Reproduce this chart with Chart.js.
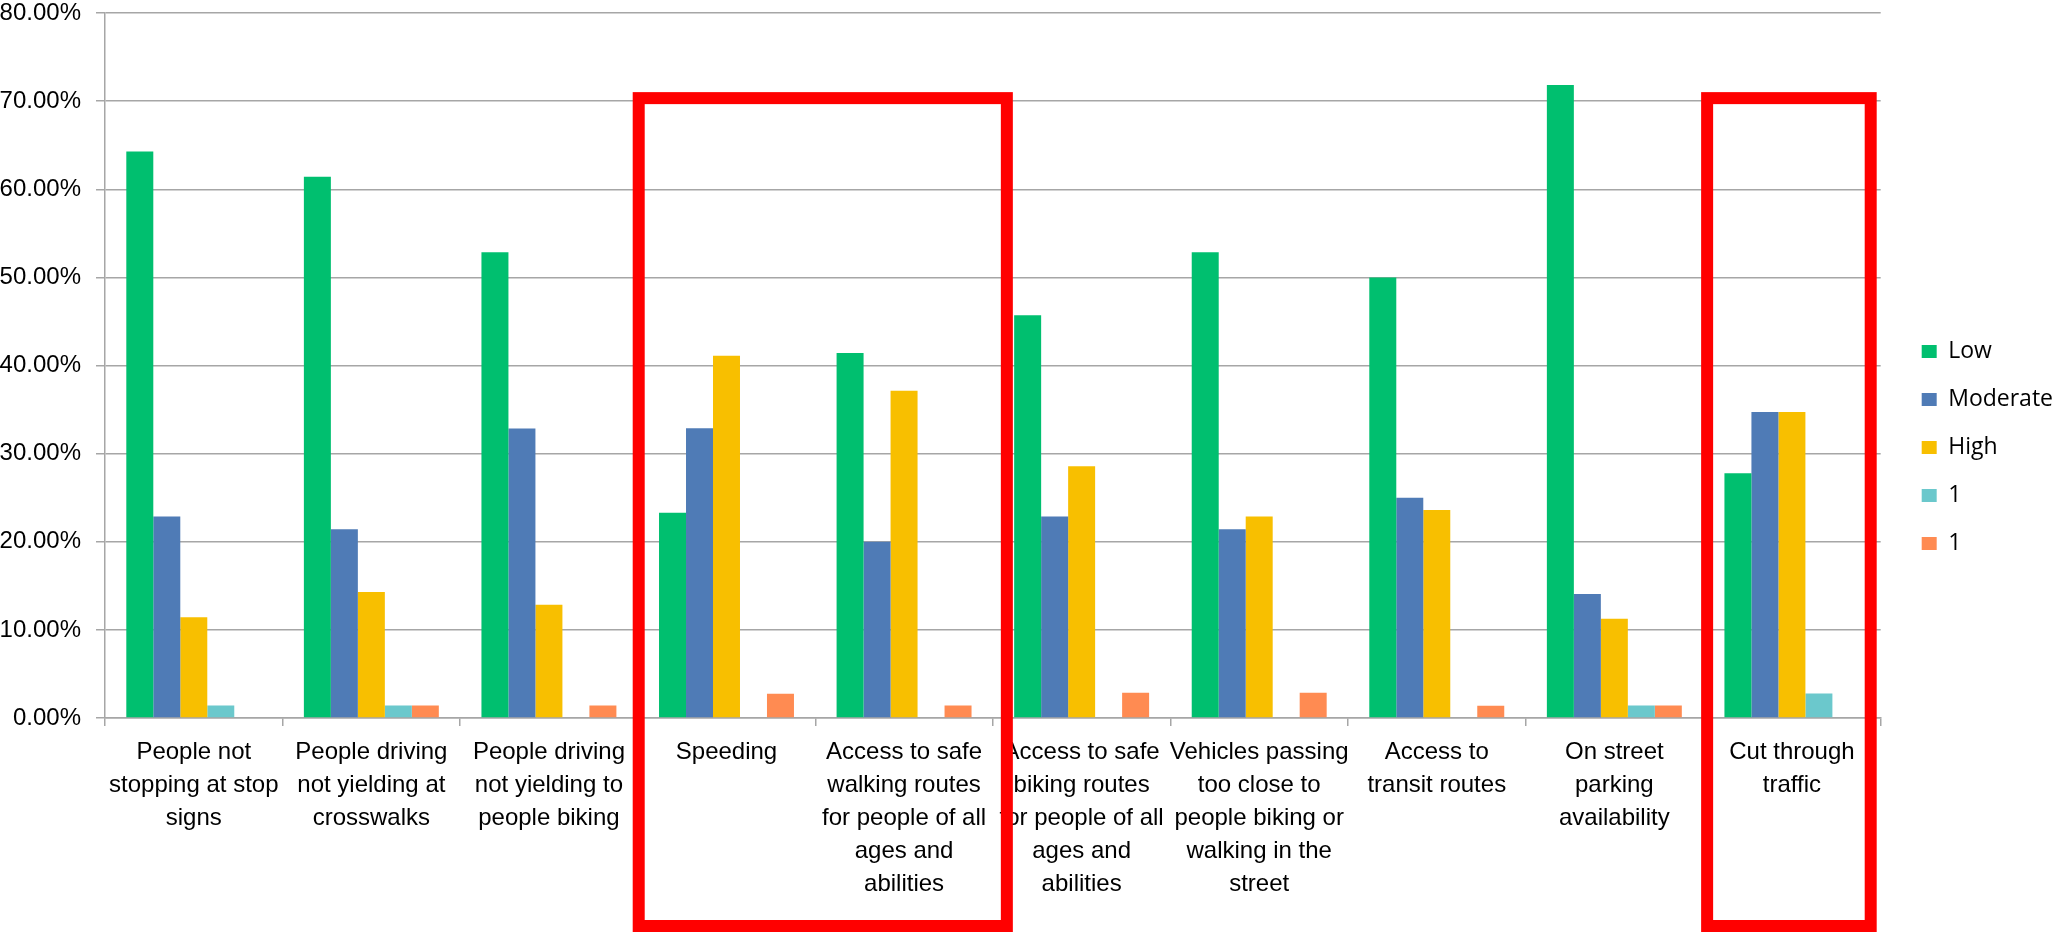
<!DOCTYPE html>
<html>
<head>
<meta charset="utf-8">
<title>Traffic concerns</title>
<script src="https://cdn.jsdelivr.net/npm/chart.js@4.4.1/dist/chart.umd.min.js"></script>
<style>
    html, body { margin: 0; padding: 0; background: #ffffff; }
    #chartBox { width: 2053px; height: 933px; }
</style>
</head>
<body>
<div id="chartBox">
    <canvas id="concernChart" width="2053" height="933"></canvas>
</div>
<script>
// ========== DATA ==========
const categories = [
    ["People not", "stopping at stop", "signs"],
    ["People driving", "not yielding at", "crosswalks"],
    ["People driving", "not yielding to", "people biking"],
    ["Speeding"],
    ["Access to safe", "walking routes", "for people of all", "ages and", "abilities"],
    ["Access to safe", "biking routes", "for people of all", "ages and", "abilities"],
    ["Vehicles passing", "too close to", "people biking or", "walking in the", "street"],
    ["Access to", "transit routes"],
    ["On street", "parking", "availability"],
    ["Cut through", "traffic"]
];

const seriesNames = ["Low", "Moderate", "High", "1", "1"];

const lowValues      = [64.29, 61.43, 52.86, 23.29, 41.43, 45.71, 52.86, 50.00, 71.83, 27.78];
const moderateValues = [22.86, 21.43, 32.86, 32.88, 20.00, 22.86, 21.43, 25.00, 14.08, 34.72];
const highValues     = [11.43, 14.29, 12.86, 41.10, 37.14, 28.57, 22.86, 23.61, 11.27, 34.72];
const extraValuesA   = [1.43, 1.43, 0, 0, 0, 0, 0, 0, 1.41, 2.78];
const extraValuesB   = [0, 1.43, 1.43, 2.74, 1.43, 2.86, 2.86, 1.39, 1.41, 0];

const yTicks = [0, 10, 20, 30, 40, 50, 60, 70, 80];

// groups outlined in red
const highlightGroups = [[3, 4], [9, 9]];

const colors = ["#00bf6f", "#4f7bb6", "#f8bf00", "#6bc8cc", "#ff8b52"];
const labelFont = "'Liberation Sans', Arial, sans-serif";
const gridGray = "#a6a6a6";


// ========== RED BOXES ==========
const highlightPlugin = {
    id: "highlightBoxes",
    afterDraw(chart, args, opts) {
        const x = chart.scales.x;
        const y = chart.scales.y;
        const step = x.getPixelForValue(1) - x.getPixelForValue(0);
        const ctx = chart.ctx;
        const top = y.getPixelForValue(yTicks[yTicks.length - 2]) - 3;
        const bottom = chart.height - 7;

        ctx.save();
        ctx.strokeStyle = "#ff0000";
        ctx.lineWidth = 12;
        highlightGroups.forEach(([first, last], i) => {
            const nudge = opts.nudges[i];
            const left = x.getPixelForValue(first) - step / 2 + nudge[0];
            const right = x.getPixelForValue(last) + step / 2 + nudge[1];
            ctx.strokeRect(left, top, right - left, bottom - top);
        });
        ctx.restore();
    }
};

// Move the legend a little away from the plot, like the spreadsheet does
const legendShift = {
    id: "legendShift",
    afterLayout(chart) {
        const lg = chart.legend;
        lg.left += 16;
        lg.right += 16;
        lg.top -= 8;
        lg.bottom -= 8;
    }
};


// ========== DRAW CHART ==========
const valueSets = [lowValues, moderateValues, highValues, extraValuesA, extraValuesB];

new Chart(document.getElementById("concernChart"), {
    type: "bar",
    data: {
        labels: categories,
        datasets: valueSets.map((values, i) => ({
            label: seriesNames[i],
            data: values,
            backgroundColor: colors[i],
            borderWidth: 0,
            categoryPercentage: 0.76,
            barPercentage: 1.0
        }))
    },
    options: {
        responsive: false,
        devicePixelRatio: 1,
        animation: false,
        layout: {
            padding: { left: 0, right: 6, top: 0, bottom: 22 }
        },
        plugins: {
            tooltip: { enabled: false },
            legend: {
                position: "right",
                labels: {
                    color: "#000000",
                    boxWidth: 15,
                    boxHeight: 13,
                    padding: 25,
                    font: { family: "'Open Sans', sans-serif", size: 23 }
                }
            },
            highlightBoxes: {
                nudges: [[1, 14], [4, -10]]
            }
        },
        scales: {
            x: {
                grid: {
                    drawOnChartArea: false,
                    drawTicks: true,
                    tickLength: 8,
                    color: gridGray,
                    lineWidth: 1.5
                },
                border: { color: gridGray, width: 1.5 },
                ticks: {
                    autoSkip: false,
                    maxRotation: 0,
                    minRotation: 0,
                    padding: 10,
                    color: "#000000",
                    font: { family: labelFont, size: 24, lineHeight: 1.375 }
                }
            },
            y: {
                min: yTicks[0],
                max: yTicks[yTicks.length - 1],
                afterFit: (scale) => {
                    scale.width = 105;
                    scale.paddingTop = 13;
                },
                afterBuildTicks: (scale) => {
                    scale.ticks = yTicks.map(v => ({ value: v }));
                },
                grid: {
                    color: gridGray,
                    lineWidth: 1.5,
                    tickLength: 9
                },
                border: { color: gridGray, width: 1.5 },
                ticks: {
                    padding: 15,
                    color: "#000000",
                    font: { family: labelFont, size: 24, lineHeight: 1.0 },
                    callback: (v) => v.toFixed(2) + "%"
                }
            }
        }
    },
    plugins: [highlightPlugin, legendShift]
});
</script>
</body>
</html>
